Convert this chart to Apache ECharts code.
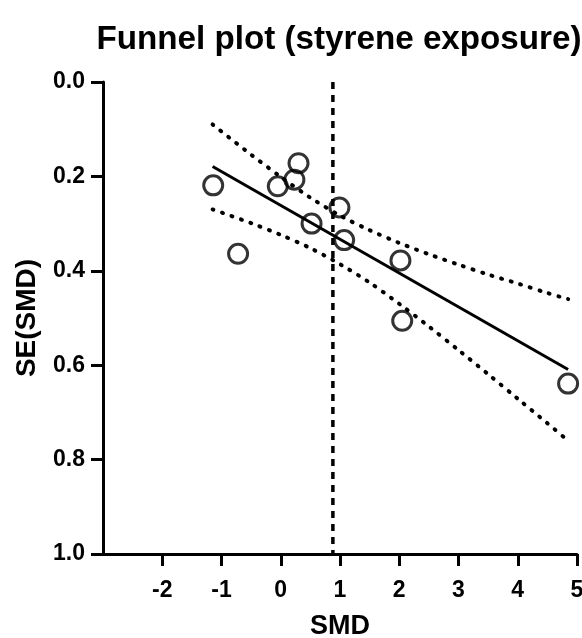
<!DOCTYPE html>
<html>
<head>
<meta charset="utf-8">
<script src="https://cdn.jsdelivr.net/npm/echarts@6/dist/echarts.min.js"></script>
<style>
  html, body { margin: 0; padding: 0; background: #fff; }
  #chart { width: 582px; height: 638px; }
</style>
</head>
<body>
<div id="chart"></div>
<script>
// Study estimates: standardised mean difference and its standard error
const smd   = [-1.14, -0.72, -0.05, 0.23, 0.30, 0.52, 0.99, 1.07, 2.02, 2.05, 4.85];
const seSmd = [0.219, 0.364, 0.221, 0.207, 0.172, 0.300, 0.266, 0.335, 0.378, 0.506, 0.639];

// Pooled effect (vertical reference line)
const pooledSmd = 0.88;

// Fitted line of SE on SMD with its confidence band
const fitX = [-1.15, 4.85];
const fitY = [0.179, 0.609];
const bandX     = [-1.15, -0.5, 0, 0.5, 1, 1.5, 2, 2.5, 3, 3.5, 4, 4.5, 4.85];
const bandUpper = [0.090, 0.154, 0.201, 0.245, 0.283, 0.314, 0.341, 0.365, 0.387, 0.408, 0.427, 0.447, 0.460];
const bandLower = [0.270, 0.299, 0.324, 0.352, 0.386, 0.425, 0.470, 0.518, 0.568, 0.619, 0.671, 0.723, 0.760];

// Axis ticks
const xTicks = [-2, -1, 0, 1, 2, 3, 4, 5];

const FONT = '"Liberation Sans", Arial, Helvetica, sans-serif';
const zip = (a, b) => a.map((v, i) => [v, b[i]]);

const chart = echarts.init(document.getElementById('chart'), null, { renderer: 'canvas' });

chart.setOption({
  backgroundColor: '#fff',
  animation: false,
  title: {
    text: 'Funnel plot (styrene exposure)',
    left: 334,
    top: 18,
    textAlign: 'center',
    textStyle: { fontFamily: FONT, fontWeight: 'bold', fontSize: 33.2, color: '#000' }
  },
  grid: { left: 103, right: 5, top: 82, bottom: 84, containLabel: false, outerBoundsMode: 'none' },
  xAxis: {
    type: 'value',
    min: -3,
    max: 5,
    interval: 1,
    name: 'SMD',
    nameLocation: 'middle',
    nameGap: 59,
    nameTextStyle: { fontFamily: FONT, fontWeight: 'bold', fontSize: 27, color: '#000' },
    axisLine: { onZero: false, lineStyle: { color: '#000', width: 3 } },
    axisTick: { show: true, length: 12, customValues: xTicks, lineStyle: { color: '#000', width: 3 } },
    axisLabel: {
      customValues: xTicks,
      margin: 25,
      fontFamily: FONT, fontWeight: 'bold', fontSize: 23, color: '#000'
    },
    splitLine: { show: false }
  },
  yAxis: {
    type: 'value',
    inverse: true,
    min: 0,
    max: 1,
    interval: 0.2,
    name: 'SE(SMD)',
    nameLocation: 'middle',
    nameGap: 62,
    nameTextStyle: { fontFamily: FONT, fontWeight: 'bold', fontSize: 28, color: '#000' },
    axisLine: { onZero: false, lineStyle: { color: '#000', width: 3 } },
    axisTick: { show: true, length: 12, lineStyle: { color: '#000', width: 3 } },
    axisLabel: {
      margin: 18,
      formatter: v => v.toFixed(1),
      fontFamily: FONT, fontWeight: 'bold', fontSize: 23, color: '#000'
    },
    splitLine: { show: false }
  },
  series: [
    {
      name: 'Upper band',
      type: 'line',
      data: zip(bandX, bandUpper),
      smooth: 0.3,
      showSymbol: false,
      silent: true,
      lineStyle: { color: '#000', width: 4, type: [1, 9], cap: 'round' }
    },
    {
      name: 'Lower band',
      type: 'line',
      data: zip(bandX, bandLower),
      smooth: 0.3,
      showSymbol: false,
      silent: true,
      lineStyle: { color: '#000', width: 4, type: [1, 9], cap: 'round' }
    },
    {
      name: 'Fit',
      type: 'line',
      data: zip(fitX, fitY),
      showSymbol: false,
      silent: true,
      lineStyle: { color: '#000', width: 3 }
    },
    {
      name: 'Pooled SMD',
      type: 'line',
      data: [[pooledSmd, 0], [pooledSmd, 1]],
      showSymbol: false,
      silent: true,
      lineStyle: { color: '#000', width: 3.5, type: [7, 6] }
    },
    {
      name: 'Studies',
      type: 'scatter',
      data: zip(smd, seSmd),
      symbol: 'circle',
      symbolSize: 19,
      itemStyle: { color: 'rgba(0,0,0,0)', borderColor: '#000', borderWidth: 3 },
      z: 5
    }
  ]
});
</script>
</body>
</html>
